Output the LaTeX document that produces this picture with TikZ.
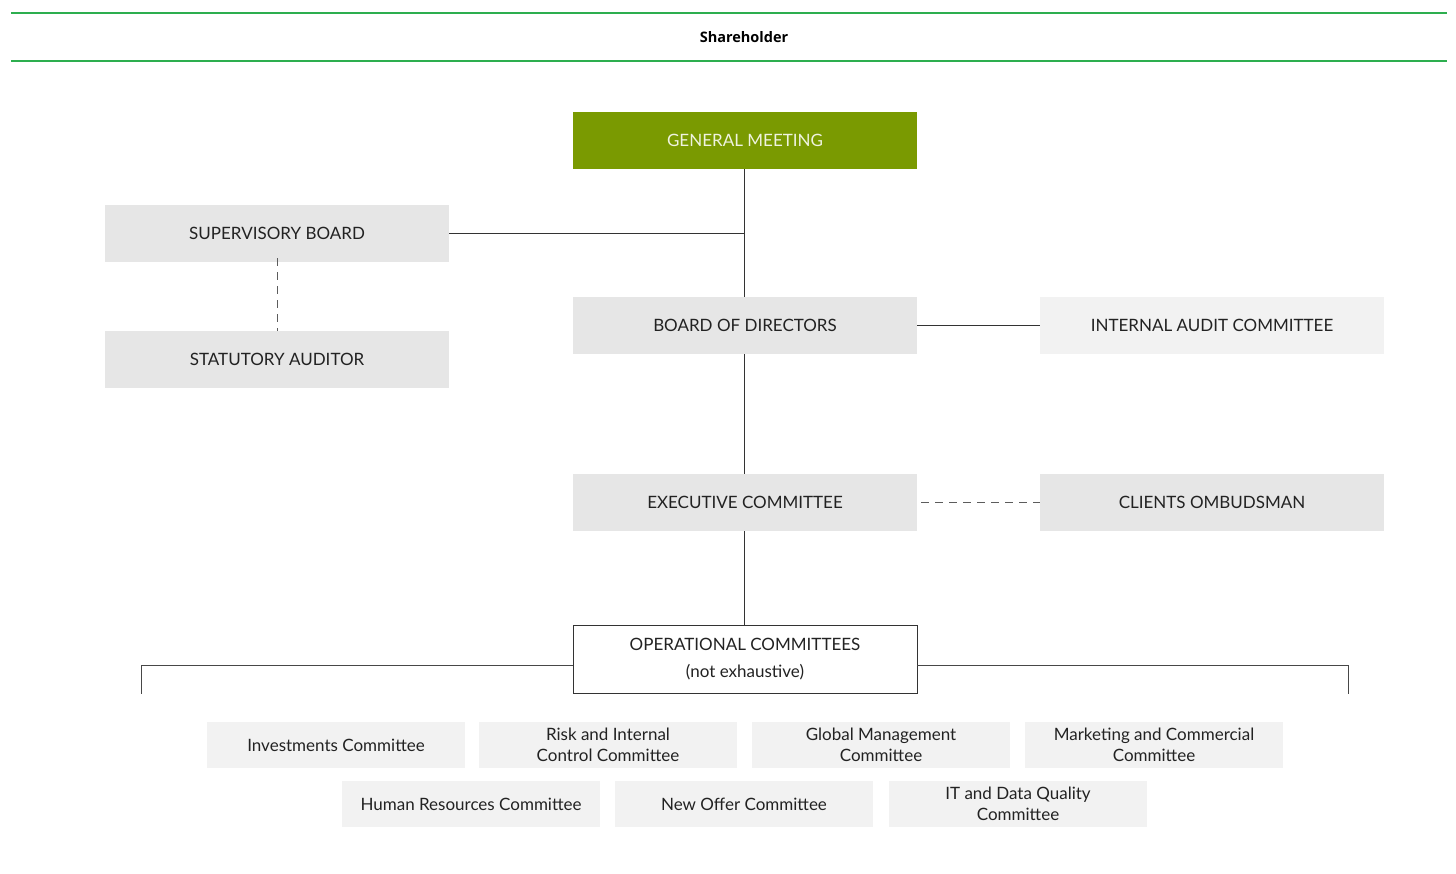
\documentclass[tikz,border=0pt]{standalone}
\usepackage{fontspec}
\setmainfont{Lato}
\newfontfamily\headfont{Open Sans}
\definecolor{olive}{HTML}{7A9A01}
\definecolor{boxgray}{HTML}{E6E6E6}
\definecolor{lightgray}{HTML}{F2F2F2}
\definecolor{rulegreen}{HTML}{2DAE4F}
\definecolor{linegray}{HTML}{333333}
\definecolor{txt}{HTML}{222222}
\begin{document}
\begin{tikzpicture}[x=1pt,y=-1pt,
  base/.style={inner sep=0pt, outer sep=0pt, font=\fontsize{17}{20}\selectfont, text=txt, align=center},
  bigbox/.style={base, minimum width=344pt, minimum height=57pt},
  graybox/.style={bigbox, fill=boxgray},
  lightbox/.style={bigbox, fill=lightgray},
  smallbox/.style={base, fill=lightgray, minimum width=258pt, minimum height=46pt, font=\fontsize{17}{21}\selectfont},
  conn/.style={draw=linegray, line width=1pt},
  dconn/.style={draw=linegray!80, line width=1pt, dash pattern=on 8pt off 6pt}
]
\useasboundingbox (0,0) rectangle (1456,873);
% header
\draw[rulegreen, line width=1.2pt] (11,13) -- (1447,13);
\draw[rulegreen, line width=1.2pt] (11,61) -- (1447,61);
\node[inner sep=0pt, font=\headfont\bfseries\fontsize{14.5}{16}\selectfont] (sh) at (744,37) {Shareholder};
% main boxes
\node[bigbox, fill=olive, text=white!88!olive] (gm) at (745,140.5) {GENERAL MEETING};
\node[graybox] (sb) at (277,233.5) {SUPERVISORY BOARD};
\node[graybox] (sa) at (277,359.5) {STATUTORY AUDITOR};
\node[graybox] (bod) at (745,325.5) {BOARD OF DIRECTORS};
\node[lightbox] (iac) at (1212,325.5) {INTERNAL AUDIT COMMITTEE};
\node[graybox] (ec) at (745,502.5) {EXECUTIVE COMMITTEE};
\node[graybox] (co) at (1212,502.5) {CLIENTS OMBUDSMAN};
\node[base, draw=linegray, line width=1pt, fill=white, minimum width=344pt, minimum height=68pt, font=\fontsize{17}{27}\selectfont] (op) at (745,659) {OPERATIONAL COMMITTEES\\(not exhaustive)};
% connectors
\coordinate (j1) at (744,233.5);
\draw[conn] (gm.south -| j1) -- (bod.north -| j1);
\draw[conn] (sb.east) -- (j1);
\draw[dconn] ([yshift=4pt]sb.south) -- (sa.north);
\draw[conn] (bod.east) -- (iac.west);
\draw[conn] (bod.south -| j1) -- (ec.north -| j1);
\draw[dconn] ([xshift=4pt]ec.east) -- (co.west);
\draw[conn] (ec.south -| j1) -- (op.north -| j1);
\coordinate (lend) at (141,694);
\coordinate (rend) at (1348,694);
\draw[conn, draw=linegray!90] (op.west |- 0,665) -| (lend);
\draw[conn, draw=linegray!90] (op.east |- 0,665) -| (rend);
% committees
\node[smallbox] (c1) at (336,745) {Investments Committee};
\node[smallbox] (c2) at (608,745) {Risk and Internal\\Control Committee};
\node[smallbox] (c3) at (881,745) {Global Management\\Committee};
\node[smallbox] (c4) at (1154,745) {Marketing and Commercial\\Committee};
\node[smallbox] (c5) at (471,804) {Human Resources Committee};
\node[smallbox] (c6) at (744,804) {New Offer Committee};
\node[smallbox] (c7) at (1018,804) {IT and Data Quality\\Committee};
\end{tikzpicture}
\end{document}
